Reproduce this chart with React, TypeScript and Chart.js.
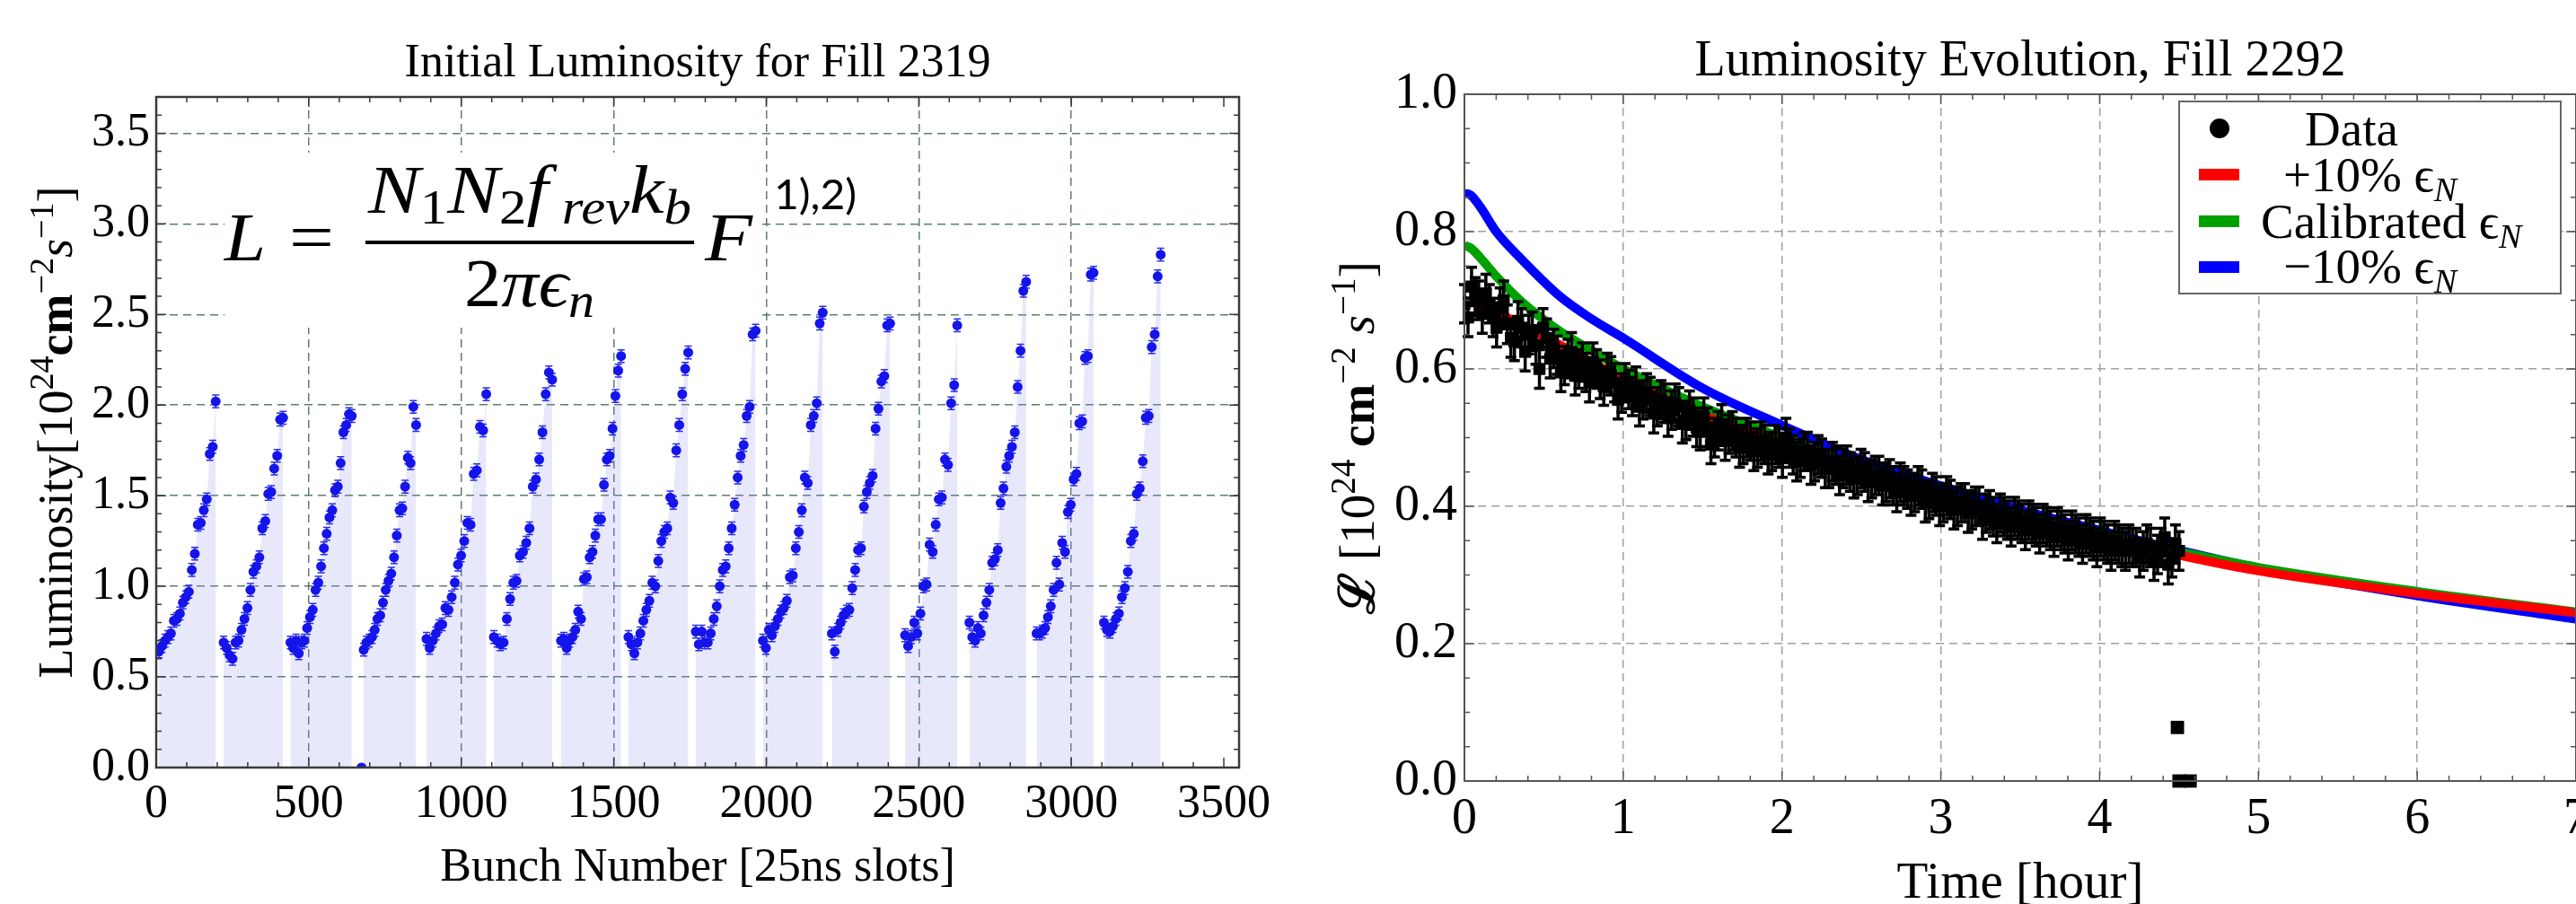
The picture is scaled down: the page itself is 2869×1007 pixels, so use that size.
import React, { useEffect, useRef } from 'react';
import { Chart, registerables } from 'chart.js';

Chart.register(...registerables);

const SERIF = '"Liberation Serif", "Times New Roman", Times, serif';
const SANS = 'Lato, "Open Sans", "Liberation Sans", sans-serif';

// ---------------- Left panel: Initial Luminosity for Fill 2319 ----------------
const LEFT_TITLE = 'Initial Luminosity for Fill 2319';
const LEFT_X_LABEL = 'Bunch Number [25ns slots]';
const LEFT_X_TICKS = [0, 500, 1000, 1500, 2000, 2500, 3000, 3500];
const LEFT_Y_TICKS = [0, 0.5, 1.0, 1.5, 2.0, 2.5, 3.0, 3.5];

const TRAIN_FIRST_BUNCH = [9, 221, 440, 680, 886, 1107, 1327, 1548, 1769, 1989, 2215, 2455, 2666, 2886, 3107];
const TRAIN_LAST_BUNCH = [195, 416, 641, 852, 1082, 1298, 1524, 1744, 1965, 2185, 2406, 2626, 2852, 3073, 3293];

const TRAIN_01 = [0.64, 0.67, 0.70, 0.72, 0.74, 0.81, 0.82, 0.85, 0.91, 0.94, 0.97, 1.09, 1.18, 1.34, 1.35, 1.42, 1.48, 1.73, 1.77, 2.02];
const TRAIN_02 = [0.69, 0.66, 0.62, 0.60, 0.69, 0.70, 0.76, 0.82, 0.88, 0.98, 1.08, 1.11, 1.16, 1.32, 1.36, 1.51, 1.52, 1.65, 1.72, 1.92, 1.93];
const TRAIN_03 = [0.69, 0.66, 0.70, 0.63, 0.69, 0.70, 0.77, 0.83, 0.87, 0.98, 1.02, 1.11, 1.21, 1.29, 1.38, 1.42, 1.53, 1.55, 1.68, 1.85, 1.89, 1.95, 1.94];
const TRAIN_04 = [0.65, 0.69, 0.70, 0.72, 0.76, 0.82, 0.84, 0.91, 0.98, 1.03, 1.07, 1.16, 1.28, 1.42, 1.43, 1.55, 1.71, 1.68, 1.99, 1.89];
const TRAIN_05 = [0.71, 0.66, 0.70, 0.74, 0.78, 0.79, 0.88, 0.87, 0.94, 1.02, 1.12, 1.17, 1.25, 1.35, 1.34, 1.62, 1.64, 1.88, 1.86, 2.06];
const TRAIN_06 = [0.72, 0.70, 0.68, 0.69, 0.82, 0.93, 1.02, 1.03, 1.17, 1.19, 1.24, 1.32, 1.55, 1.59, 1.70, 1.85, 2.06, 2.18, 2.14];
const TRAIN_07 = [0.70, 0.71, 0.66, 0.70, 0.72, 0.76, 0.86, 0.82, 1.04, 1.05, 1.16, 1.19, 1.28, 1.37, 1.37, 1.56, 1.70, 1.72, 1.87, 2.05, 2.19, 2.27];
const TRAIN_08 = [0.72, 0.68, 0.63, 0.69, 0.74, 0.81, 0.87, 0.92, 1.02, 1.00, 1.14, 1.25, 1.30, 1.32, 1.49, 1.46, 1.75, 1.89, 2.06, 2.20, 2.29];
const TRAIN_09 = [0.75, 0.68, 0.75, 0.69, 0.69, 0.74, 0.82, 0.89, 1.00, 1.09, 1.11, 1.21, 1.32, 1.45, 1.60, 1.72, 1.78, 1.94, 1.99, 2.39, 2.41];
const TRAIN_10 = [0.70, 0.66, 0.76, 0.73, 0.78, 0.82, 0.86, 0.88, 0.92, 1.05, 1.06, 1.21, 1.30, 1.42, 1.60, 1.57, 1.89, 1.94, 2.01, 2.45, 2.51];
const TRAIN_11 = [0.74, 0.64, 0.76, 0.80, 0.84, 0.86, 0.87, 0.99, 1.09, 1.20, 1.21, 1.44, 1.52, 1.57, 1.61, 1.87, 1.98, 2.13, 2.16, 2.44, 2.45];
const TRAIN_12 = [0.73, 0.67, 0.72, 0.80, 0.74, 0.85, 1.00, 1.01, 1.23, 1.19, 1.34, 1.48, 1.49, 1.70, 1.67, 2.01, 2.11, 2.44];
const TRAIN_13 = [0.80, 0.72, 0.70, 0.77, 0.74, 0.84, 0.91, 0.98, 1.13, 1.15, 1.20, 1.46, 1.54, 1.66, 1.72, 1.77, 1.85, 2.10, 2.30, 2.63, 2.68];
const TRAIN_14 = [0.74, 0.74, 0.75, 0.77, 0.83, 0.89, 0.98, 1.13, 1.01, 1.24, 1.19, 1.41, 1.45, 1.59, 1.62, 1.90, 1.91, 2.26, 2.27, 2.72, 2.73];
const TRAIN_15 = [0.80, 0.76, 0.75, 0.78, 0.82, 0.85, 0.94, 0.99, 1.08, 1.25, 1.29, 1.51, 1.54, 1.69, 1.93, 1.94, 2.32, 2.39, 2.71, 2.83];
const TRAINS = [TRAIN_01, TRAIN_02, TRAIN_03, TRAIN_04, TRAIN_05, TRAIN_06, TRAIN_07, TRAIN_08, TRAIN_09, TRAIN_10, TRAIN_11, TRAIN_12, TRAIN_13, TRAIN_14, TRAIN_15];

const EMPTY_BUNCH = [673];
const EMPTY_LUMI = [0.0];
const BUNCH_LUMI_ERR = 0.035;

// ---------------- Right panel: Luminosity Evolution, Fill 2292 ----------------
const RIGHT_TITLE = 'Luminosity Evolution, Fill 2292';
const RIGHT_X_LABEL = 'Time [hour]';
const RIGHT_X_TICKS = [0, 1, 2, 3, 4, 5, 6, 7];
const RIGHT_Y_TICKS = [0, 0.2, 0.4, 0.6, 0.8, 1.0];

const DATA_T_STEP = 0.045; // hours between samples
const DATA_A_T_START = 0;
const DATA_A_LUMI = [
  0.695, 0.72, 0.70, 0.71, 0.675, 0.69, 0.665, 0.64, 0.66, 0.65,
  0.635, 0.66, 0.615, 0.62, 0.605, 0.625, 0.60, 0.595, 0.61, 0.585,
  0.595, 0.58, 0.565, 0.57, 0.575, 0.555, 0.56, 0.545, 0.55, 0.54,
  0.545, 0.525, 0.53, 0.51, 0.515, 0.50, 0.52, 0.505, 0.50, 0.49,
  0.495, 0.485, 0.49, 0.48, 0.485, 0.50, 0.475, 0.47, 0.48, 0.465,
  0.47, 0.455, 0.46, 0.455, 0.45, 0.445, 0.45, 0.44, 0.445, 0.435,
  0.43, 0.435, 0.425, 0.42, 0.425, 0.41, 0.415, 0.405, 0.41, 0.40,
  0.405, 0.395, 0.40, 0.39, 0.385, 0.39, 0.38, 0.385, 0.375, 0.38,
  0.37, 0.375, 0.365, 0.37, 0.36, 0.365, 0.355, 0.36, 0.35, 0.355,
  0.345, 0.35, 0.34, 0.345, 0.34, 0.335, 0.34, 0.33, 0.355, 0.325,
  0.335,
];
const DATA_B_T_START = 0.0225;
const DATA_B_LUMI = [
  0.675, 0.705, 0.68, 0.695, 0.66, 0.70, 0.645, 0.67, 0.625, 0.655,
  0.60, 0.645, 0.63, 0.595, 0.615, 0.59, 0.61, 0.58, 0.60, 0.575,
  0.59, 0.555, 0.58, 0.56, 0.545, 0.565, 0.535, 0.555, 0.53, 0.55,
  0.52, 0.54, 0.515, 0.53, 0.49, 0.51, 0.495, 0.51, 0.485, 0.50,
  0.48, 0.495, 0.475, 0.49, 0.47, 0.485, 0.465, 0.48, 0.46, 0.475,
  0.455, 0.465, 0.445, 0.46, 0.44, 0.455, 0.435, 0.445, 0.43, 0.44,
  0.42, 0.43, 0.415, 0.43, 0.405, 0.42, 0.40, 0.415, 0.395, 0.405,
  0.39, 0.40, 0.38, 0.395, 0.375, 0.385, 0.37, 0.38, 0.365, 0.375,
  0.36, 0.37, 0.355, 0.365, 0.35, 0.36, 0.345, 0.355, 0.34, 0.35,
  0.335, 0.345, 0.335, 0.34, 0.325, 0.345, 0.32, 0.34, 0.315, 0.345,
];
const DATA_ERR = 0.028;
const DUMP_T = [4.49, 4.5, 4.57];
const DUMP_LUMI = [0.078, 0.0, 0.0];

const CURVE_T = [0, 0.04, 0.1, 0.2, 0.35, 0.6, 0.8, 1.0, 1.5, 2.0, 2.5, 3.0, 3.5, 4.0, 4.5, 5.0, 6.0, 7.0];
const CURVE_PLUS10 = [0.70, 0.698, 0.693, 0.683, 0.665, 0.635, 0.61, 0.585, 0.533, 0.49, 0.45, 0.412, 0.384, 0.357, 0.329, 0.306, 0.273, 0.245];
const CURVE_CALIB = [0.78, 0.776, 0.762, 0.735, 0.70, 0.655, 0.627, 0.60, 0.545, 0.50, 0.455, 0.416, 0.386, 0.36, 0.334, 0.311, 0.276, 0.246];
const CURVE_MINUS10 = [0.856, 0.853, 0.836, 0.80, 0.762, 0.706, 0.673, 0.645, 0.572, 0.518, 0.468, 0.43, 0.395, 0.365, 0.336, 0.31, 0.27, 0.236];

const LEGEND_LABELS = ['Data', '+10% \u03f5', 'Calibrated \u03f5', '\u221210% \u03f5'];

// ---------------- helpers ----------------
type Seg = { t: string; f: string; dy?: number };

function segsWidth(ctx: CanvasRenderingContext2D, segs: Seg[]) {
  let w = 0;
  for (const s of segs) {
    ctx.font = s.f;
    w += ctx.measureText(s.t).width;
  }
  return w;
}

function drawSegs(ctx: CanvasRenderingContext2D, segs: Seg[], x: number, y: number, align: string, fitWidth?: number, color = '#000') {
  const w = segsWidth(ctx, segs);
  const sx = fitWidth ? fitWidth / w : 1;
  const total = w * sx;
  let x0 = x;
  if (align === 'center') x0 = x - total / 2;
  else if (align === 'right') x0 = x - total;
  ctx.save();
  ctx.translate(x0, y);
  ctx.scale(sx, 1);
  ctx.textAlign = 'left';
  ctx.textBaseline = 'alphabetic';
  ctx.fillStyle = color;
  let cx = 0;
  for (const s of segs) {
    ctx.font = s.f;
    ctx.fillText(s.t, cx, s.dy || 0);
    cx += ctx.measureText(s.t).width;
  }
  ctx.restore();
}

function drawFrameAndTicks(chart: any, xMajor: number, xMinor: number, yMajor: number, yMinor: number, color: string, frameW: number) {
  const { ctx, chartArea: a, scales } = chart;
  const xs = scales.x;
  const ys = scales.y;
  ctx.save();
  ctx.strokeStyle = color;
  ctx.lineWidth = 1.5;
  ctx.setLineDash([]);
  const isMajor = (v: number, m: number) => Math.abs(v / m - Math.round(v / m)) < 1e-6;
  ctx.beginPath();
  const nx = Math.floor((xs.max - xs.min) / xMinor + 1e-6);
  for (let i = 0; i <= nx; i++) {
    const v = xs.min + i * xMinor;
    const px = xs.getPixelForValue(v);
    const L = isMajor(v, xMajor) ? 11 : 6;
    ctx.moveTo(px, a.bottom); ctx.lineTo(px, a.bottom - L);
    ctx.moveTo(px, a.top); ctx.lineTo(px, a.top + L);
  }
  const ny = Math.floor((ys.max - ys.min) / yMinor + 1e-6);
  for (let i = 0; i <= ny; i++) {
    const v = ys.min + i * yMinor;
    const py = ys.getPixelForValue(v);
    const L = isMajor(v, yMajor) ? 11 : 6;
    ctx.moveTo(a.left, py); ctx.lineTo(a.left + L, py);
    ctx.moveTo(a.right, py); ctx.lineTo(a.right - L, py);
  }
  ctx.stroke();
  ctx.lineWidth = frameW;
  ctx.strokeRect(a.left, a.top, a.right - a.left, a.bottom - a.top);
  ctx.restore();
}

function drawErrorBars(chart: any, pts: { x: number; y: number }[], err: number, color: string, lw: number, cap: number) {
  const { ctx, scales } = chart;
  ctx.save();
  ctx.strokeStyle = color;
  ctx.lineWidth = lw;
  ctx.setLineDash([]);
  ctx.beginPath();
  for (const p of pts) {
    const px = scales.x.getPixelForValue(p.x);
    const y1 = scales.y.getPixelForValue(p.y - err);
    const y2 = scales.y.getPixelForValue(p.y + err);
    ctx.moveTo(px, y1); ctx.lineTo(px, y2);
    ctx.moveTo(px - cap, y1); ctx.lineTo(px + cap, y1);
    ctx.moveTo(px - cap, y2); ctx.lineTo(px + cap, y2);
  }
  ctx.stroke();
  ctx.restore();
}

// ---------------- Left chart ----------------
function LeftChart() {
  const ref = useRef<HTMLCanvasElement | null>(null);
  useEffect(() => {
    const canvas = ref.current;
    if (!canvas) return;
    const trainPts = TRAINS.map((vals, k) => {
      const first = TRAIN_FIRST_BUNCH[k];
      const last = TRAIN_LAST_BUNCH[k];
      const step = (last - first) / (vals.length - 1);
      return vals.map((v, i) => ({ x: first + i * step, y: v }));
    });
    const allPts: { x: number; y: number }[] = [];
    trainPts.forEach((p) => allPts.push(...p));
    const emptyPts = EMPTY_BUNCH.map((b, i) => ({ x: b, y: EMPTY_LUMI[i] }));

    const GRID_L = 'rgba(75,110,100,0.9)';
    const fills = trainPts.map((p) => ({
      type: 'line',
      data: p,
      fill: 'origin',
      backgroundColor: 'rgba(140,140,235,0.2)',
      borderColor: 'rgba(0,0,0,0)',
      borderWidth: 0,
      pointRadius: 0,
      tension: 0,
    }));

    const decor = {
      id: 'leftDecor',
      beforeDatasetsDraw(chart: any) {
        const ctx = chart.ctx;
        ctx.save();
        ctx.fillStyle = '#fff';
        ctx.fillRect(250, 170, 595, 195);
        ctx.restore();
        const M = 77;
        const S = 54;
        drawSegs(ctx, [{ t: 'L', f: `italic ${M}px ${SERIF}` }], 250, 290, 'left', 46);
        drawSegs(ctx, [{ t: '=', f: `${M}px ${SERIF}` }], 347, 290, 'center', 50);
        drawSegs(ctx, [
          { t: 'N', f: `italic ${M}px ${SERIF}` },
          { t: '1', f: `${S}px ${SERIF}`, dy: 12 },
          { t: 'N', f: `italic ${M}px ${SERIF}` },
          { t: '2', f: `${S}px ${SERIF}`, dy: 12 },
          { t: 'f', f: `italic ${M}px ${SERIF}` },
          { t: ' rev', f: `italic ${S}px ${SERIF}`, dy: 12 },
          { t: 'k', f: `italic ${M}px ${SERIF}` },
          { t: 'b', f: `italic ${S}px ${SERIF}`, dy: 12 },
        ], 410, 237, 'left', 360);
        ctx.save();
        ctx.fillStyle = '#000';
        ctx.fillRect(407, 268, 366, 4);
        ctx.restore();
        drawSegs(ctx, [
          { t: '2', f: `${M}px ${SERIF}` },
          { t: '\u03c0', f: `italic ${M}px ${SERIF}` },
          { t: '\u03f5', f: `italic ${M}px ${SERIF}` },
          { t: 'n', f: `italic ${S}px ${SERIF}`, dy: 12 },
        ], 517, 341, 'left', 145);
        drawSegs(ctx, [{ t: 'F', f: `italic ${M}px ${SERIF}` }], 785, 290, 'left', 53);
        drawSegs(ctx, [{ t: '1),2)', f: `46px ${SANS}` }], 862, 233, 'left', 92);
      },
      beforeDatasetDraw(chart: any, args: any) {
        if (args.index === 0) drawErrorBars(chart, allPts, BUNCH_LUMI_ERR, 'rgba(20,20,235,0.9)', 1.5, 4);
      },
      afterDraw(chart: any) {
        const ctx = chart.ctx;
        const a = chart.chartArea;
        drawFrameAndTicks(chart, 500, 100, 0.5, 0.1, '#3a3a3a', 2.5);
        drawSegs(ctx, [{ t: LEFT_TITLE, f: `52px ${SERIF}` }], (a.left + a.right) / 2, 85, 'center');
        drawSegs(ctx, [{ t: LEFT_X_LABEL, f: `52px ${SERIF}` }], (a.left + a.right) / 2, 981, 'center');
        ctx.save();
        ctx.translate(80, (a.top + a.bottom) / 2);
        ctx.rotate(-Math.PI / 2);
        const F = 54;
        const sup = `${Math.round(F * 0.7)}px ${SERIF}`;
        drawSegs(ctx, [
          { t: 'Luminosity', f: `${F}px ${SERIF}` },
          { t: '[10', f: `${F}px ${SERIF}` },
          { t: '24', f: sup, dy: -21 },
          { t: 'cm', f: `bold ${F}px ${SERIF}` },
          { t: '\u22122', f: sup, dy: -21 },
          { t: 's', f: `italic ${F}px ${SERIF}` },
          { t: '\u22121', f: sup, dy: -21 },
          { t: ']', f: `${F}px ${SERIF}` },
        ], 0, 0, 'center');
        ctx.restore();
      },
    };

    const chart = new Chart(canvas, {
      type: 'scatter',
      data: {
        datasets: [
          {
            type: 'scatter',
            data: [...allPts, ...emptyPts],
            pointRadius: 5.5,
            pointBackgroundColor: 'rgb(20,20,235)',
            pointBorderColor: 'rgb(20,20,235)',
            pointBorderWidth: 0,
            showLine: false,
          },
          ...fills,
        ] as any,
      },
      options: {
        animation: false,
        responsive: false,
        maintainAspectRatio: false,
        devicePixelRatio: 1,
        events: [],
        layout: { padding: { left: 0, top: 108, right: 70, bottom: 0 } },
        plugins: { legend: { display: false }, tooltip: { enabled: false }, title: { display: false } },
        scales: {
          x: {
            type: 'linear',
            min: 0,
            max: 3550,
            afterBuildTicks: (s: any) => { s.ticks = LEFT_X_TICKS.map((v) => ({ value: v })); },
            afterFit: (s: any) => { s.height = 152; },
            ticks: {
              font: { family: SERIF, size: 52 },
              color: '#000',
              padding: 10,
              maxRotation: 0,
              autoSkip: false,
              callback: (v: any) => String(v),
            },
            grid: {
              color: (c: any) => (c.tick && c.tick.value > 0 && c.tick.value < 3500 ? GRID_L : 'rgba(0,0,0,0)'),
              lineWidth: 1.5,
              drawTicks: false,
            },
            border: { display: false, dash: [9, 6] },
          },
          y: {
            type: 'linear',
            min: 0,
            max: 3.7,
            afterBuildTicks: (s: any) => { s.ticks = LEFT_Y_TICKS.map((v) => ({ value: v })); },
            afterFit: (s: any) => { s.width = 174; },
            ticks: {
              font: { family: SERIF, size: 52 },
              color: '#000',
              padding: 7,
              callback: (v: any) => Number(v).toFixed(1),
            },
            grid: {
              color: (c: any) => (c.tick && c.tick.value > 0 ? GRID_L : 'rgba(0,0,0,0)'),
              lineWidth: 1.5,
              drawTicks: false,
            },
            border: { display: false, dash: [9, 6] },
          },
        },
      } as any,
      plugins: [decor],
    });
    return () => chart.destroy();
  }, []);
  return (
    <canvas
      ref={ref}
      width={1450}
      height={1007}
      style={{ position: 'absolute', left: 0, top: 0, width: 1450, height: 1007 }}
    />
  );
}

// ---------------- Right chart ----------------
function RightChart() {
  const ref = useRef<HTMLCanvasElement | null>(null);
  useEffect(() => {
    const canvas = ref.current;
    if (!canvas) return;
    const ptsA = DATA_A_LUMI.map((v, i) => ({ x: DATA_A_T_START + i * DATA_T_STEP, y: v }));
    const ptsB = DATA_B_LUMI.map((v, i) => ({ x: DATA_B_T_START + i * DATA_T_STEP, y: v }));
    const dataPts = [...ptsA, ...ptsB];
    const dumpPts = DUMP_T.map((t, i) => ({ x: t, y: DUMP_LUMI[i] }));
    const curve = (vals: number[]) => CURVE_T.map((t, i) => ({ x: t, y: vals[i] }));
    const GRID_R = 'rgba(150,150,150,0.9)';

    const decor = {
      id: 'rightDecor',
      beforeDatasetDraw(chart: any, args: any) {
        if (args.index === 0) drawErrorBars(chart, dataPts, DATA_ERR, '#000', 3.5, 6);
      },
      afterDraw(chart: any) {
        const ctx = chart.ctx;
        const a = chart.chartArea;
        drawFrameAndTicks(chart, 1, 0.2, 0.2, 0.05, '#555', 2);
        ctx.save();
        ctx.fillStyle = '#fff';
        ctx.fillRect(977, 113, 425, 214);
        ctx.strokeStyle = '#666';
        ctx.lineWidth = 2;
        ctx.strokeRect(977, 113, 425, 214);
        ctx.fillStyle = '#000';
        ctx.beginPath();
        ctx.arc(1022, 143, 11, 0, Math.PI * 2);
        ctx.fill();
        ctx.fillStyle = '#ff0000';
        ctx.fillRect(999, 188, 45, 13);
        ctx.fillStyle = '#00a000';
        ctx.fillRect(999, 240, 45, 13);
        ctx.fillStyle = '#0000ff';
        ctx.fillRect(999, 291, 45, 13);
        ctx.restore();
        const LF = `55px ${SERIF}`;
        const SUB = `italic 38px ${SERIF}`;
        drawSegs(ctx, [{ t: LEGEND_LABELS[0], f: LF }], 1117, 162, 'left');
        drawSegs(ctx, [{ t: LEGEND_LABELS[1], f: LF }, { t: 'N', f: SUB, dy: 11 }], 1093, 213, 'left');
        drawSegs(ctx, [{ t: LEGEND_LABELS[2], f: LF }, { t: 'N', f: SUB, dy: 11 }], 1068, 265, 'left');
        drawSegs(ctx, [{ t: LEGEND_LABELS[3], f: LF }, { t: 'N', f: SUB, dy: 11 }], 1093, 315, 'left');
        drawSegs(ctx, [{ t: RIGHT_TITLE, f: `56px ${SERIF}` }], (a.left + a.right) / 2, 84, 'center');
        drawSegs(ctx, [{ t: RIGHT_X_LABEL, f: `57px ${SERIF}` }], (a.left + a.right) / 2, 1000, 'center');
        ctx.save();
        ctx.translate(80, (a.top + a.bottom) / 2);
        ctx.rotate(-Math.PI / 2);
        const F = 55;
        const sup = `${Math.round(F * 0.7)}px ${SERIF}`;
        drawSegs(ctx, [
          { t: '\u2112', f: `bold ${F}px ${SERIF}` },
          { t: ' [10', f: `${F}px ${SERIF}` },
          { t: '24', f: sup, dy: -21 },
          { t: ' ', f: `${F}px ${SERIF}` },
          { t: 'cm', f: `bold ${F}px ${SERIF}` },
          { t: '\u22122', f: sup, dy: -21 },
          { t: ' ', f: `${F}px ${SERIF}` },
          { t: 's', f: `italic ${F}px ${SERIF}` },
          { t: '\u22121', f: sup, dy: -21 },
          { t: ']', f: `${F}px ${SERIF}` },
        ], 0, 0, 'center');
        ctx.restore();
      },
    };

    const lineDs = (vals: number[], color: string) => ({
      type: 'line',
      data: curve(vals),
      borderColor: color,
      borderWidth: 10,
      pointRadius: 0,
      fill: false,
      cubicInterpolationMode: 'monotone',
      borderCapStyle: 'butt',
    });

    const chart = new Chart(canvas, {
      type: 'scatter',
      data: {
        datasets: [
          {
            type: 'scatter',
            data: dataPts,
            pointStyle: 'rect',
            pointRadius: 9.5,
            pointBackgroundColor: '#000',
            pointBorderColor: '#000',
            pointBorderWidth: 0,
            showLine: false,
          },
          {
            type: 'scatter',
            data: dumpPts,
            pointStyle: 'rect',
            pointRadius: 10.5,
            pointBackgroundColor: '#000',
            pointBorderColor: '#000',
            pointBorderWidth: 0,
            showLine: false,
            clip: false,
          },
          lineDs(CURVE_PLUS10, '#ff0000'),
          lineDs(CURVE_CALIB, '#00a000'),
          lineDs(CURVE_MINUS10, '#0000ff'),
        ] as any,
      },
      options: {
        animation: false,
        responsive: false,
        maintainAspectRatio: false,
        devicePixelRatio: 1,
        events: [],
        layout: { padding: { left: 0, top: 105, right: 41, bottom: 0 } },
        plugins: { legend: { display: false }, tooltip: { enabled: false }, title: { display: false } },
        scales: {
          x: {
            type: 'linear',
            min: 0,
            max: 7,
            afterBuildTicks: (s: any) => { s.ticks = RIGHT_X_TICKS.map((v) => ({ value: v })); },
            afterFit: (s: any) => { s.height = 137; },
            ticks: {
              font: { family: SERIF, size: 56 },
              color: '#000',
              padding: 10,
              maxRotation: 0,
              autoSkip: false,
              callback: (v: any) => String(v),
            },
            grid: {
              color: (c: any) => (c.tick && c.tick.value > 0 && c.tick.value < 7 ? GRID_R : 'rgba(0,0,0,0)'),
              lineWidth: 1.5,
              drawTicks: false,
            },
            border: { display: false, dash: [9, 6] },
          },
          y: {
            type: 'linear',
            min: 0,
            max: 1.0,
            afterBuildTicks: (s: any) => { s.ticks = RIGHT_Y_TICKS.map((v) => ({ value: v })); },
            afterFit: (s: any) => { s.width = 181; },
            ticks: {
              font: { family: SERIF, size: 56 },
              color: '#000',
              padding: 8,
              callback: (v: any) => Number(v).toFixed(1),
            },
            grid: {
              color: (c: any) => (c.tick && c.tick.value > 0 && c.tick.value < 1 ? GRID_R : 'rgba(0,0,0,0)'),
              lineWidth: 1.5,
              drawTicks: false,
            },
            border: { display: false, dash: [9, 6] },
          },
        },
      } as any,
      plugins: [decor],
    });
    return () => chart.destroy();
  }, []);
  return (
    <canvas
      ref={ref}
      width={1460}
      height={1007}
      style={{ position: 'absolute', left: 1450, top: 0, width: 1460, height: 1007 }}
    />
  );
}

export default function App() {
  return (
    <div
      style={{
        position: 'fixed',
        left: 0,
        top: 0,
        width: 2869,
        height: 1007,
        overflow: 'hidden',
        background: '#fff',
      }}
    >
      <LeftChart />
      <RightChart />
    </div>
  );
}
